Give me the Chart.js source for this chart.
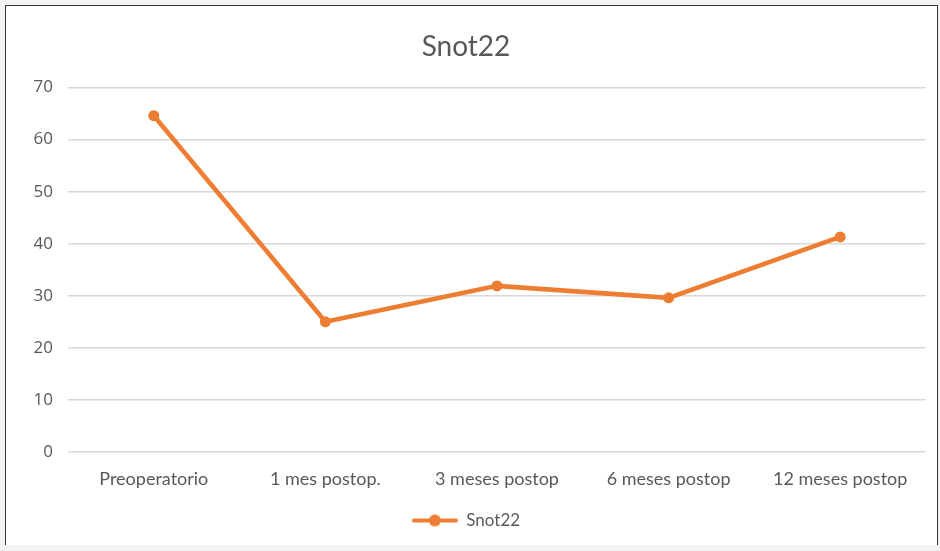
<!DOCTYPE html>
<html>
<head>
<meta charset="utf-8">
<script src="https://cdn.jsdelivr.net/npm/chart.js@4"></script>
<style>
  html, body { margin: 0; padding: 0; background: #f4f4f4; }
  #box {
    position: absolute; left: 5px; top: 5px; width: 931px; height: 539px;
    border: 1.5px solid #333; border-bottom: none; background: #fff;
  }
  #box canvas { display: block; }
</style>
</head>
<body>
<div id="box"><canvas id="chartSnot" width="931" height="539"></canvas></div>
<script>
// Datos del gráfico
const etiquetas = ['Preoperatorio', '1 mes postop.', '3 meses postop', '6 meses postop', '12 meses postop'];
const valoresSnot = [64.6, 25, 31.9, 29.6, 41.3];
const nombreSerie = 'Snot22';
const naranja = '#ED7D31';

// Icono de la leyenda: línea con marcador
function iconoLeyenda() {
    const c = document.createElement('canvas');
    c.width = 46; c.height = 14;
    const ctx = c.getContext('2d');
    ctx.strokeStyle = naranja;
    ctx.lineWidth = 4;
    ctx.lineCap = 'round';
    ctx.beginPath();
    ctx.moveTo(2, 7); ctx.lineTo(44, 7);
    ctx.stroke();
    ctx.fillStyle = naranja;
    ctx.beginPath();
    ctx.arc(23, 7, 6, 0, Math.PI * 2);
    ctx.fill();
    return c;
}

const chart = new Chart(document.getElementById('chartSnot'), {
    type: 'line',
    data: {
        labels: etiquetas,
        datasets: [{
            label: nombreSerie,
            data: valoresSnot,
            borderColor: naranja,
            backgroundColor: naranja,
            borderWidth: 4.5,
            pointRadius: 5.5,
            pointHoverRadius: 5.5,
            pointBackgroundColor: naranja,
            pointBorderWidth: 0,
            tension: 0
        }]
    },
    options: {
        responsive: false,
        animation: false,
        layout: { padding: { left: 0, right: 11, top: 10, bottom: 6 } },
        plugins: {
            title: {
                display: true,
                text: 'Snot22',
                color: '#595959',
                font: { family: 'Lato', size: 28, weight: 'normal' },
                padding: { top: 14, bottom: 24 }
            },
            legend: {
                position: 'bottom',
                labels: {
                    usePointStyle: true,
                    pointStyle: iconoLeyenda(),
                    pointStyleWidth: 46,
                    color: '#595959',
                    font: { family: 'Lato', size: 17 },
                    padding: 6.5
                }
            },
            tooltip: { enabled: false }
        },
        scales: {
            x: {
                offset: true,
                grid: { display: false, drawTicks: false },
                border: { display: false },
                ticks: {
                    color: '#595959',
                    font: { family: 'Lato', size: 18 },
                    padding: 16,
                    maxRotation: 0
                }
            },
            y: {
                min: 0,
                max: 70,
                afterFit: s => { s.width = 62; },
                grid: { color: '#d9d9d9', lineWidth: 1.5, drawTicks: false },
                border: { display: false },
                ticks: {
                    stepSize: 10,
                    color: '#595959',
                    font: { family: 'Open Sans', size: 17 },
                    padding: 15
                }
            }
        }
    }
});
</script>
</body>
</html>
